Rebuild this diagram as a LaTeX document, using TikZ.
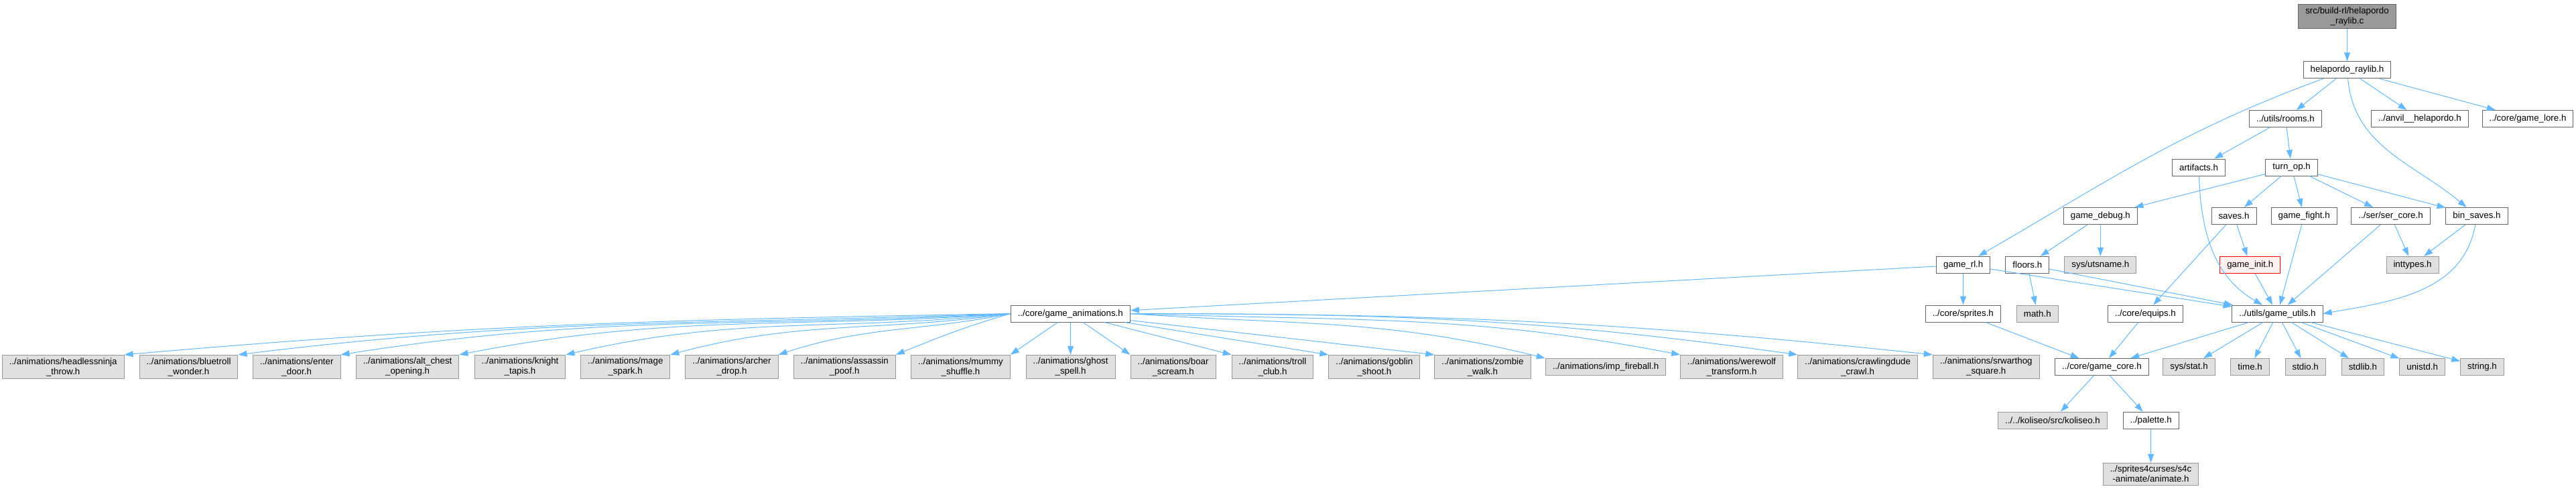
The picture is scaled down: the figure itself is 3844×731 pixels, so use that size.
\documentclass[tikz,border=0pt]{standalone}
\usepackage{fontspec}
\setmainfont{Liberation Sans}
\usetikzlibrary{arrows.meta}

\definecolor{edgeblue}{HTML}{63B8FF}
\definecolor{filegray}{HTML}{666666}
\definecolor{sysgray}{HTML}{999999}
\definecolor{sysfill}{HTML}{E0E0E0}
\definecolor{rootfill}{HTML}{999999}
\definecolor{errfill}{HTML}{FFF0F0}

\begin{document}
\begin{tikzpicture}[x=1pt, y=1pt,
  hfile/.style={draw=filegray, fill=white, line width=1pt, minimum height=25pt,
                inner xsep=10.5pt, inner ysep=4pt, align=center,
                font=\fontsize{13.33}{15}\selectfont},
  sysf/.style={hfile, draw=sysgray, fill=sysfill},
  rootf/.style={hfile, draw=filegray, fill=rootfill},
  errf/.style={hfile, draw=red, fill=errfill},
  arr/.style={-{Triangle[length=13pt, width=9pt]}, edgeblue, line width=1pt},
]
\useasboundingbox (0,0) rectangle (3844,-731);

% --- Top of the include tree ---
\node[rootf] (root) at (3502.5,-24.5) {src/build-rl/helapordo\\\_raylib.c};
\node[hfile] (hr) at (3502.5,-104.3) {helapordo\_raylib.h};
\node[hfile] (rooms) at (3410.4,-177) {../utils/rooms.h};
\node[hfile] (anvil) at (3610.8,-177) {../anvil\_\_helapordo.h};
\node[hfile] (lore) at (3772,-177) {../core/game\_lore.h};
\node[hfile] (art) at (3281,-249.5) {artifacts.h};
\node[hfile] (turn) at (3419.6,-249.5) {turn\_op.h};
\node[hfile] (dbg) at (3134.4,-322) {game\_debug.h};
\node[hfile] (saves) at (3333.5,-322) {saves.h};
\node[hfile] (fight) at (3438.2,-322) {game\_fight.h};
\node[hfile] (ser) at (3567.5,-322) {../ser/ser\_core.h};
\node[hfile] (bin) at (3696,-322) {bin\_saves.h};
\node[hfile] (grl) at (2929.7,-394.8) {game\_rl.h};
\node[hfile] (floors) at (3025.3,-394.8) {floors.h};
\node[sysf] (uts) at (3134.4,-394.8) {sys/utsname.h};
\node[errf] (init) at (3357.7,-394.8) {game\_init.h};
\node[sysf] (intt) at (3600,-394.8) {inttypes.h};
\node[hfile] (ga) at (1597.3,-467.6) {../core/game\_animations.h};
\node[hfile] (spr) at (2929.3,-467.6) {../core/sprites.h};
\node[sysf] (math) at (3040.3,-467.6) {math.h};
\node[hfile] (equ) at (3201.3,-467.6) {../core/equips.h};
\node[hfile] (gu) at (3398.5,-467.6) {../utils/game\_utils.h};

% --- Animation headers ---
\node[sysf] (hn) at (94.2,-547) {../animations/headlessninja\\\_throw.h};
\node[sysf] (bt) at (281.5,-547) {../animations/bluetroll\\\_wonder.h};
\node[sysf] (ed) at (442.7,-547) {../animations/enter\\\_door.h};
\node[sysf] (ac) at (608.1,-547) {../animations/alt\_chest\\\_opening.h};
\node[sysf] (kt) at (776,-547) {../animations/knight\\\_tapis.h};
\node[sysf] (ms) at (933.1,-547) {../animations/mage\\\_spark.h};
\node[sysf] (ad) at (1092,-547) {../animations/archer\\\_drop.h};
\node[sysf] (ap) at (1260.2,-547) {../animations/assassin\\\_poof.h};
\node[sysf] (mu) at (1433.5,-547) {../animations/mummy\\\_shuffle.h};
\node[sysf] (gs) at (1597.6,-547) {../animations/ghost\\\_spell.h};
\node[sysf] (bs) at (1750.6,-547) {../animations/boar\\\_scream.h};
\node[sysf] (tc) at (1899,-547) {../animations/troll\\\_club.h};
\node[sysf] (gb) at (2050.8,-547) {../animations/goblin\\\_shoot.h};
\node[sysf] (zw) at (2212.4,-547) {../animations/zombie\\\_walk.h};
\node[sysf] (imp) at (2396,-547) {../animations/imp\_fireball.h};
\node[sysf] (ww) at (2584,-547) {../animations/werewolf\\\_transform.h};
\node[sysf] (cd) at (2772.1,-547) {../animations/crawlingdude\\\_crawl.h};
\node[sysf] (sw) at (2963.7,-547) {../animations/srwarthog\\\_square.h};

% --- Core and system headers ---
\node[hfile] (core) at (3136.4,-547) {../core/game\_core.h};
\node[sysf] (stat) at (3266.5,-547) {sys/stat.h};
\node[sysf] (time) at (3357.6,-547) {time.h};
\node[sysf] (stdio) at (3440.2,-547) {stdio.h};
\node[sysf] (stdlib) at (3525.9,-547) {stdlib.h};
\node[sysf] (unistd) at (3614.7,-547) {unistd.h};
\node[sysf] (string) at (3704,-547) {string.h};
\node[sysf] (kol) at (3063,-626.8) {../../koliseo/src/koliseo.h};
\node[hfile] (pal) at (3209.7,-626.8) {../palette.h};
\node[sysf] (s4c) at (3209.5,-706.7) {../sprites4curses/s4c\\-animate/animate.h};

% --- Includes ---
\draw[arr] (root) -- (hr);
\draw[arr] (hr) to[out=-160, in=30] (grl);
\draw[arr] (hr) -- (rooms);
\draw[arr] (hr) to[out=-85, in=140] (bin);
\draw[arr] (hr) -- (anvil);
\draw[arr] (hr) -- (lore);
\draw[arr] (rooms) -- (art);
\draw[arr] (rooms) -- (turn);
\draw[arr] (art) to[out=-88, in=150] (gu);
\draw[arr] (turn) -- (dbg);
\draw[arr] (turn) -- (saves);
\draw[arr] (turn) -- (fight);
\draw[arr] (turn) -- (ser);
\draw[arr] (turn) -- (bin);
\draw[arr] (dbg) -- (floors);
\draw[arr] (dbg) -- (uts);
\draw[arr] (saves) -- (equ);
\draw[arr] (saves) -- (init);
\draw[arr] (fight) -- (gu);
\draw[arr] (ser) -- (gu);
\draw[arr] (ser) -- (intt);
\draw[arr] (bin) -- (intt);
\draw[arr] (bin) to[out=-100, in=10] (gu.east);
\draw[arr] (grl) -- (ga);
\draw[arr] (grl) -- (spr);
\draw[arr] (grl) -- (gu);
\draw[arr] (floors) -- (math);
\draw[arr] (floors) -- (gu);
\draw[arr] (init) -- (gu);
\draw[arr] (spr) -- (core);
\draw[arr] (equ) -- (core);

% game_animations fan (long curves, so explicit controls)
\draw[arr] (ga.west) .. controls +(-520,-9) and +(518,45) .. (hn.north east);
\draw[arr] (ga.west) .. controls +(-450,-16) and +(447,55) .. (bt.north east);
\draw[arr] (ga.west) .. controls +(-391,-21) and +(387,61) .. (ed.north east);
\draw[arr] (ga.west) .. controls +(-322,-23) and +(317,62) .. (ac.north east);
\draw[arr] (ga.west) .. controls +(-260,-27) and +(254,59) .. (kt.north east);
\draw[arr] (ga.west) .. controls +(-198,-28) and +(193,52) .. (ms.north east);
\draw[arr] (ga.west) .. controls +(-136,-27) and +(132,43) .. (ad.north east);
\draw[arr] (ga.west) .. controls +(-69,-20) and +(67,27) .. (ap.north east);
\draw[arr] (ga) -- (mu.north east);
\draw[arr] (ga) -- (gs);
\draw[arr] (ga) -- (bs.north west);
\draw[arr] (ga) -- (tc.north west);
\draw[arr] (ga) -- (gb.north west);
\draw[arr] (ga) -- (zw.north west);
\draw[arr] (ga.east) .. controls +(244,-17) and +(-238,59) .. (imp.north west);
\draw[arr] (ga.east) .. controls +(322,-11) and +(-316,61) .. (ww.north west);
\draw[arr] (ga.east) .. controls +(390,0) and +(-386,54) .. (cd.north west);
\draw[arr] (ga.east) .. controls +(468,0) and +(-465,49) .. (sw.north west);

% game_utils and game_core
\draw[arr] (gu) -- (core);
\draw[arr] (gu) -- (stat);
\draw[arr] (gu) -- (time);
\draw[arr] (gu) -- (stdio);
\draw[arr] (gu) -- (stdlib);
\draw[arr] (gu) -- (unistd);
\draw[arr] (gu) -- (string);
\draw[arr] (core) -- (kol);
\draw[arr] (core) -- (pal);
\draw[arr] (pal) -- (s4c);
\end{tikzpicture}
\end{document}
